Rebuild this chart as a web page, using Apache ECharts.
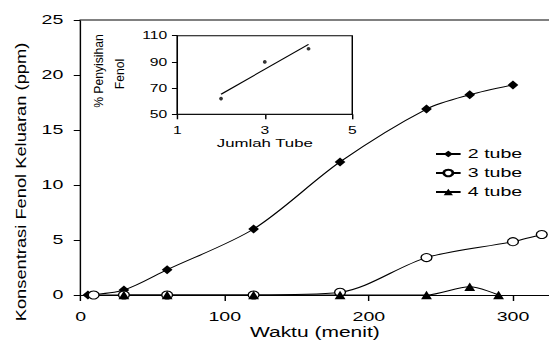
<!DOCTYPE html>
<html><head><meta charset="utf-8">
<script src="https://cdn.jsdelivr.net/npm/echarts@6/dist/echarts.min.js"></script>
<style>
html,body{margin:0;padding:0;background:#fff;overflow:hidden;width:549px;height:340px}
#wrap{width:549px;height:340px;overflow:hidden}
#chart{width:379px;height:340px;transform:scaleX(1.4485);transform-origin:0 0}
</style></head><body>
<div id="wrap"><div id="chart"></div></div>
<script>
// Main chart data
const seriesNames = ['2 tube', '3 tube', '4 tube'];
const time2 = [5, 30, 60, 120, 180, 240, 270, 300];
const conc2 = [0, 0.45, 2.3, 6.0, 12.1, 16.9, 18.2, 19.1];
const time3 = [9, 30, 60, 120, 180, 240, 300, 320];
const conc3 = [0, 0, 0, 0, 0.25, 3.4, 4.85, 5.5];
const time4 = [30, 60, 120, 180, 240, 270, 290];
const conc4 = [0, 0, 0, 0, 0, 0.75, 0];
// Inset data
const tubeCount = [2, 3, 4];
const removal = [62, 90, 100];
const trendX = [2, 4];
const trendY = [65.3, 103.4];

const FONT = 'Liberation Sans, Arial, sans-serif';
const pairs = (xs, ys) => xs.map((x, i) => [x, ys[i]]);

const chart = echarts.init(document.getElementById('chart'), null, {renderer: 'svg'});
const lineBase = {
  type: 'line', xAxisIndex: 0, yAxisIndex: 0, smooth: 0.3,
  lineStyle: {color: '#000', width: 1},
  emphasis: {disabled: true}, z: 3
};
chart.setOption({
  animation: false,
  backgroundColor: '#fff',
  grid: [
    {left: 55.7, right: 0, top: 20, bottom: 45, containLabel: false, outerBoundsMode: 'none'},
    {left: 122.4, width: 120.8, top: 35.7, height: 78.6, show: true, outerBoundsMode: 'none',
     backgroundColor: '#fff', borderColor: '#000', borderWidth: 1, z: 5}
  ],
  legend: {
    data: seriesNames, orient: 'vertical', left: 295, top: 142,
    itemWidth: 17, itemHeight: 8, itemGap: 5,
    textStyle: {fontFamily: FONT, fontSize: 13.5, color: '#000', lineHeight: 14},
    selectedMode: false
  },
  xAxis: [
    {gridIndex: 0, type: 'value', min: 0, max: 325, interval: 100,
     axisLine: {show: true, onZero: true, lineStyle: {color: '#000', width: 1}},
     axisTick: {show: true, length: 6, lineStyle: {color: '#000'}},
     axisLabel: {fontFamily: FONT, fontSize: 13.5, color: '#000', margin: 15,
       showMaxLabel: false},
     splitLine: {show: false},
     name: 'Waktu (menit)', nameLocation: 'middle', nameGap: 30, nameMoveOverlap: false,
     nameTextStyle: {fontFamily: FONT, fontSize: 14.5, color: '#000'}},
    {gridIndex: 0, type: 'value', position: 'top', min: 0, max: 325,
     axisLine: {show: true, onZero: false, lineStyle: {color: '#808080', width: 2}},
     axisTick: {show: false}, axisLabel: {show: false}, splitLine: {show: false}},
    {gridIndex: 1, type: 'value', min: 1, max: 5, interval: 2,
     axisLine: {show: true, lineStyle: {color: '#000', width: 1}},
     axisTick: {show: true, length: 5, lineStyle: {color: '#000'}},
     axisLabel: {fontFamily: FONT, fontSize: 10.8, color: '#000', margin: 11},
     splitLine: {show: false},
     name: 'Jumlah Tube', nameLocation: 'middle', nameGap: 23, nameMoveOverlap: false,
     nameTextStyle: {fontFamily: FONT, fontSize: 11.6, color: '#000'}}
  ],
  yAxis: [
    {gridIndex: 0, type: 'value', min: 0, max: 25, interval: 5,
     axisLine: {show: true, lineStyle: {color: '#000', width: 1}},
     axisTick: {show: true, length: 4.8, lineStyle: {color: '#000'}},
     axisLabel: {fontFamily: FONT, fontSize: 13.5, color: '#000', margin: 12},
     splitLine: {show: false}},
    {gridIndex: 1, type: 'value', min: 50, max: 110, interval: 20,
     axisLine: {show: true, lineStyle: {color: '#000', width: 1}},
     axisTick: {show: true, length: 3.7, lineStyle: {color: '#000'}},
     axisLabel: {fontFamily: FONT, fontSize: 10.8, color: '#000', margin: 7},
     splitLine: {show: false}}
  ],
  graphic: [
    {type: 'text', x: 14.2, y: 182, rotation: Math.PI / 2, scaleX: 1.83, scaleY: 1,
     style: {text: 'Konsentrasi Fenol Keluaran (ppm)', fontSize: 10, fontFamily: FONT,
       fill: '#000', align: 'center', verticalAlign: 'middle',
       textAlign: 'center', textVerticalAlign: 'middle'}},
    {type: 'text', x: 68, y: 71, rotation: Math.PI / 2, scaleX: 1.4, scaleY: 1,
     style: {text: '% Penyisihan', fontSize: 8.7, fontFamily: FONT,
       fill: '#000', align: 'center', verticalAlign: 'middle',
       textAlign: 'center', textVerticalAlign: 'middle'}},
    {type: 'text', x: 82.5, y: 74, rotation: Math.PI / 2, scaleX: 1.4, scaleY: 1,
     style: {text: 'Fenol', fontSize: 8.7, fontFamily: FONT,
       fill: '#000', align: 'center', verticalAlign: 'middle',
       textAlign: 'center', textVerticalAlign: 'middle'}}
  ],
  series: [
    Object.assign({}, lineBase, {name: seriesNames[0], data: pairs(time2, conc2),
      symbol: 'diamond', symbolSize: [7.4, 9], itemStyle: {color: '#000'}}),
    Object.assign({}, lineBase, {name: seriesNames[1], data: pairs(time3, conc3),
      symbol: 'circle', symbolSize: [7.5, 8],
      itemStyle: {color: '#fff', borderColor: '#000', borderWidth: 1}}),
    Object.assign({}, lineBase, {name: seriesNames[2], data: pairs(time4, conc4),
      symbol: 'triangle', symbolSize: [7.5, 8.5], itemStyle: {color: '#000'}}),
    {type: 'scatter', name: 'inset', xAxisIndex: 2, yAxisIndex: 1, data: pairs(tubeCount, removal),
     symbol: 'circle', symbolSize: [2.6, 3.6], itemStyle: {color: '#000'}, z: 6,
     emphasis: {disabled: true}},
    {type: 'line', name: 'trend', xAxisIndex: 2, yAxisIndex: 1, data: pairs(trendX, trendY),
     showSymbol: false, symbol: 'none', lineStyle: {color: '#000', width: 1}, z: 6,
     emphasis: {disabled: true}}
  ]
});
</script>
</body></html>
